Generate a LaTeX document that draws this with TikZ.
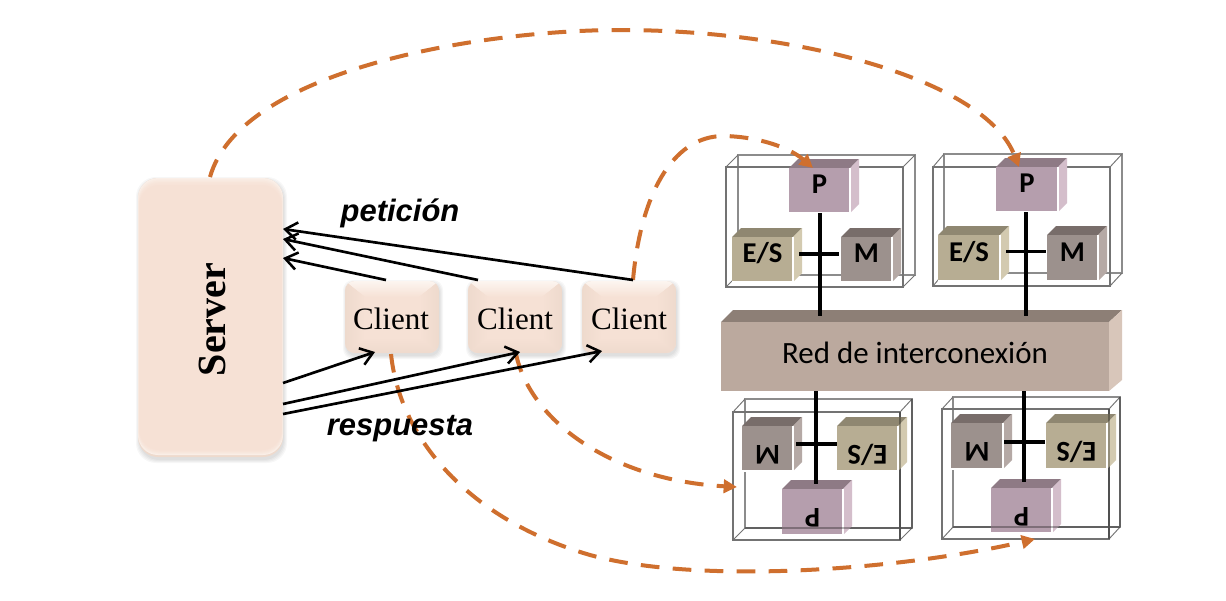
\documentclass[tikz,border=0pt]{standalone}
\usepackage{fontspec}
\setmainfont{Liberation Serif}
\newfontfamily\arialf{Liberation Sans}
\newfontfamily\calf{Carlito}
\usetikzlibrary{arrows.meta,calc}
\definecolor{peach}{HTML}{F6E1D5}
\definecolor{peachlt}{HTML}{FCF5F0}
\definecolor{peachdk}{HTML}{EEDACD}
\definecolor{orng}{HTML}{CF6F2E}
\definecolor{pF}{HTML}{B59EAD}\definecolor{pT}{HTML}{8E7A85}\definecolor{pS}{HTML}{D4BECB}
\definecolor{eF}{HTML}{B7AD93}\definecolor{eT}{HTML}{8F8771}\definecolor{eS}{HTML}{D3CAB0}
\definecolor{mF}{HTML}{9C918D}\definecolor{mT}{HTML}{786D6A}\definecolor{mS}{HTML}{B5A9A5}
\definecolor{rF}{HTML}{BBA99E}\definecolor{rT}{HTML}{8D7F76}\definecolor{rS}{HTML}{D8C6BA}
\tikzset{
  softlabel/.style={inner sep=0pt,outer sep=0pt,draw=none,fill=none},
  cubeface/.style={inner sep=0pt,outer sep=0pt,font=\calf\bfseries\fontsize{21.5pt}{22pt}\selectfont},
  framefront/.style={draw=black!55,line width=1.2pt},
  frameback/.style={draw=black!45,line width=1.5pt},
  framethin/.style={draw=black,opacity=.3,line width=1.1pt},
  bus/.style={line width=3pt,black},
  busthin/.style={line width=2.6pt,black},
  reqarrow/.style={line width=2pt,black,-{Straight Barb[length=9pt,width=13pt,line width=1.9pt]}},
  flow/.style={orng,line width=3pt,dash pattern=on 14pt off 10pt,-{Triangle[length=10pt,width=10pt]}},
  caption/.style={inner sep=0pt,font=\arialf\bfseries\itshape\fontsize{23.2pt}{24pt}\selectfont}
}
% soft shadow of a rounded box
\newcommand{\softshadow}[5]{%
  \foreach \k in {4,3,2,1}{%
    \fill[black,opacity=.03,rounded corners=#5*0.75pt]
      ({#1+2-\k},{#2+3-\k}) rectangle ({#3+\k},{#4+2+\k});}}
\newcommand{\serverbody}[5]{%
  \softshadow{#1}{#2}{#3}{#4}{#5}
  \fill[peachdk,rounded corners=#5*0.75pt] (#1,#2) rectangle (#3,#4);
  \foreach \k/\c in {0/30,1/50,2/65,3/80,4/90,5/100}{%
    \fill[peach!\c!peachlt,rounded corners=#5*0.75pt] ({#1+\k*0.3},{#2+\k*1.4}) rectangle ({#3-\k*0.3},{#4-2-\k});}}
\newcommand{\clientbody}[4]{%
  \softshadow{#1}{#2}{#3}{#4}{10}
  \begin{scope}
    \clip[rounded corners=7.5pt] (#1,#2) rectangle (#3,#4);
    \fill[peach] (#1,#2) rectangle (#3,#4);
    \shade[top color=peachlt,bottom color=peach] (#1,#2) -- (#3,#2) -- ({#3-20},{#2+16}) -- ({#1+20},{#2+16}) -- cycle;
    \shade[left color=peachdk,right color=peach] (#1,#2) -- ({#1+20},{#2+16}) -- ({#1+20},{#4-16}) -- (#1,#4) -- cycle;
    \shade[left color=peach,right color=peachdk] (#3,#2) -- ({#3-20},{#2+16}) -- ({#3-20},{#4-16}) -- (#3,#4) -- cycle;
    \shade[top color=peach,bottom color=peachdk] (#1,#4) -- ({#1+20},{#4-16}) -- ({#3-20},{#4-16}) -- (#3,#4) -- cycle;
  \end{scope}}
% \cube{name}{x0}{y0}{x1}{y1}{palette}{rotation}{text}
\newcommand{\cube}[8]{%
  \fill[#6T] (#2,#3) -- ({#2+9},{#3-9}) -- ({#4+9},{#3-9}) -- (#4,#3) -- cycle;
  \fill[#6S] (#4,#3) -- ({#4+9},{#3-9}) -- ({#4+9},{#5-9}) -- (#4,#5) -- cycle;
  \node[cubeface,fill=#6F,minimum width={(#4-#2)*0.75pt},minimum height={(#5-#3)*0.75pt},rotate=#7] (#1) at ({(#2+#4)/2},{(#3+#5)/2}) {\smash{\raisebox{-2.4pt}{#8}}};
  \draw[white,line width=0.8pt] (#4,#3) -- (#4,#5) -- (#2,#5);}
% \wireframe{x0}{y0}{x1}{y1}{x0b}{y0b}{x1b}{y1b}
\newcommand{\wireframe}[8]{%
  \draw[frameback] (#5,#6) rectangle (#7,#8);
  \draw[framefront] (#1,#2) rectangle (#3,#4);
  \draw[framefront,line width=0.7pt] (#1,#2) -- (#5,#6) (#3,#2) -- (#7,#6) (#3,#4) -- (#7,#8) (#1,#4) -- (#5,#8);}
\begin{document}
\begin{tikzpicture}[x=0.75pt,y=-0.75pt]
\useasboundingbox (0,0) rectangle (1226,600);
\fill[white] (0,0) rectangle (1226,600);

% --- boxes
\serverbody{138}{178}{283}{457}{20}
\clientbody{345}{281}{439}{353}
\clientbody{468}{281}{562}{353}
\clientbody{582}{281}{676}{353}
\node[softlabel,minimum width=108.75pt,minimum height=209.25pt] (server) at (210.5,317.5) {};
\node[softlabel,rotate=90,font=\bfseries\fontsize{30pt}{30pt}\selectfont] (servertxt) at ([xshift=1.5pt,yshift=-1.5pt]server.center) {Server};
\node[softlabel,minimum width=70.5pt,minimum height=54pt,font=\fontsize{23.3pt}{24pt}\selectfont] (c1) at (391,318.5) {Client};
\node[softlabel,minimum width=70.5pt,minimum height=54pt,font=\fontsize{23.3pt}{24pt}\selectfont] (c2) at (515,318.5) {Client};
\node[softlabel,minimum width=70.5pt,minimum height=54pt,font=\fontsize{23.3pt}{24pt}\selectfont] (c3) at (629,318.5) {Client};

% --- processing nodes
\wireframe{726}{167}{903}{287}{738}{155}{915}{275}
\wireframe{933}{167}{1110}{286}{944}{154}{1122}{273}
\wireframe{733}{412}{900}{540}{745}{399}{912}{528}
\wireframe{942}{409}{1109}{539}{953}{397}{1120}{527}

\cube{p1}{789}{168}{850}{213}{p}{0}{P}
\cube{es1}{732}{237}{793}{282}{e}{0}{E/S}
\cube{m1}{841}{237}{892}{282}{m}{0}{M}
\cube{p2}{996}{167}{1058}{212}{p}{0}{P}
\cube{es2}{938}{235}{1000}{281}{e}{0}{E/S}
\cube{m2}{1047}{235}{1098}{281}{m}{0}{M}
\cube{m3}{742}{426}{793}{471}{m}{180}{M}
\cube{es3}{837}{426}{898}{471}{e}{180}{E/S}
\cube{p3}{782}{489}{843}{535}{p}{180}{P}
\cube{m4}{951}{423}{1003}{469}{m}{180}{M}
\cube{es4}{1046}{423}{1107}{469}{e}{180}{E/S}
\cube{p4}{991}{488}{1052}{533}{p}{180}{P}

% translucent frame edges lying over the lower boxes
\draw[framethin] (900,412) -- (900,540) (912,399) -- (912,528) (745,528) -- (912,528);
\draw[framethin] (1109,409) -- (1109,539) (1120,397) -- (1120,527) (953,527) -- (1120,527);

% --- network
\fill[rT] (721,322) -- (733,310) -- (1122,310) -- (1109,322) -- cycle;
\fill[rS] (1109,322) -- (1122,310) -- (1122,380) -- (1109,391) -- cycle;
\node[inner sep=0pt,outer sep=0pt,fill=rF,minimum width=291pt,minimum height=51.75pt,font=\calf\fontsize{23.2pt}{24pt}\selectfont] (red) at (915,356.5) {\raisebox{5pt}{Red de interconexión}};

% --- buses
\coordinate (redtop) at (915,316);
\coordinate (b3) at (816,484);
\coordinate (b4) at (1024,482);
\draw[bus] (p1.south) -- (p1.south |- redtop);
\draw[bus] ([xshift=-0.75pt]p2.south) -- ([xshift=-0.75pt]p2.south |- redtop);
\draw[bus] (b3 |- red.south) -- (b3);
\draw[bus] (b4 |- red.south) -- (b4);
\draw[busthin] ([xshift=4.5pt,yshift=4.1pt]es1.east) -- ([xshift=-1.5pt,yshift=4.1pt]m1.west);
\draw[busthin] ([xshift=4.5pt,yshift=4.9pt]es2.east) -- ([xshift=-0.75pt,yshift=4.9pt]m2.west);
\draw[busthin] ([xshift=2.25pt,yshift=3.4pt]m3.west) -- ([yshift=3.4pt]es3.east);
\draw[busthin] ([xshift=0.75pt,yshift=3pt]m4.west) -- ([xshift=-0.75pt,yshift=3pt]es4.east);

% --- attachment points
\coordinate (srvtop) at (210,177);
\coordinate (c1bot) at (391,354);
\coordinate (c2bot) at (516,354);
\coordinate (c3top) at (633,280);
\coordinate (p1in) at (813,168);
\coordinate (p2in) at (1019,167);
\coordinate (f3in) at (737,487);
\coordinate (p4in) at (1035,539);

% --- dashed flows
\draw[flow] (srvtop) .. controls (240,70) and (480,30) .. (620,30) .. controls (800,30) and (985,80) .. (p2in);
\draw[flow] (c3top) .. controls (640,200) and (670,135) .. (725,136) .. controls (760,137) and (790,148) .. (p1in);
\draw[flow] (c2bot) .. controls (530,420) and (610,480) .. (f3in);
\draw[flow] (c1bot) .. controls (400,440) and (470,520) .. (590,555) .. controls (700,585) and (900,570) .. (p4in);

% --- requests and replies
\coordinate (q1) at (386,280);\coordinate (q2) at (478,280);\coordinate (q3) at (633,280);
\coordinate (s1) at (283,229);\coordinate (s2) at (283,239);\coordinate (s3) at (283,258);
\coordinate (r1) at (283,383);\coordinate (r2) at (283,404);\coordinate (r3) at (283,414);
\coordinate (t1) at (375,352);\coordinate (t2) at (520,352);\coordinate (t3) at (602,351);
\draw[reqarrow] (q3) -- (s1);
\draw[reqarrow] (q2) -- (s2);
\draw[reqarrow] (q1) -- (s3);
\draw[reqarrow] (r1) -- (t1);
\draw[reqarrow] (r2) -- (t2);
\draw[reqarrow] (r3) -- (t3);

\node[caption] (pet) at (400,213) {petición};
\node[caption] (res) at (400,429) {respuesta};
\end{tikzpicture}
\end{document}
